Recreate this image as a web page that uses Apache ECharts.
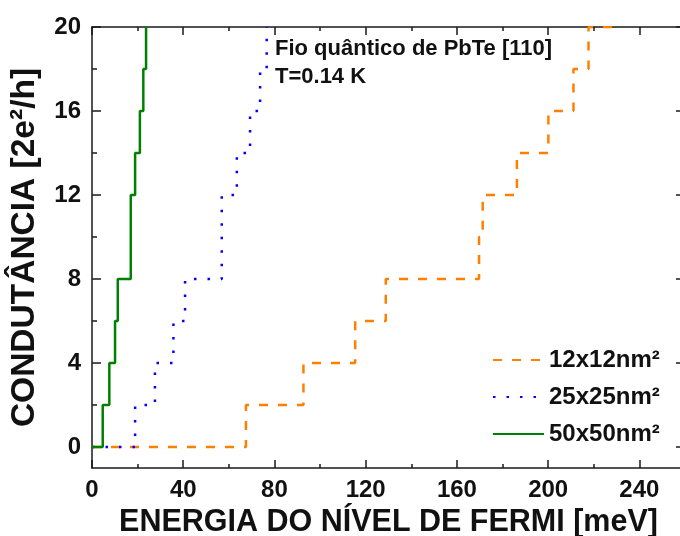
<!DOCTYPE html>
<html>
<head>
<meta charset="utf-8">
<script src="https://cdn.jsdelivr.net/npm/echarts@6/dist/echarts.min.js"></script>
<style>html,body{margin:0;padding:0;background:#fff;}#c{width:680px;height:536px;}</style>
</head>
<body>
<div id="c"></div>
<script>
// ---- data ----
const seriesNames = ['12x12nm\u00B2', '25x25nm\u00B2', '50x50nm\u00B2'];
// energy (meV) at which the conductance steps to the given value
const energy12 = [0, 67.5, 92.7, 115.4, 128.8, 169.7, 171.3, 186.3, 200.1, 211.1, 217.7, 230.5];
const cond12   = [0, 2, 4, 6, 8, 10, 12, 14, 16, 18, 20, 20];
const energy25 = [0, 18.9, 27.6, 35.7, 40.8, 56.9, 63.5, 69.3, 73.7, 76.6];
const cond25   = [0, 2, 4, 6, 8, 12, 14, 16, 18, 20];
const energy50 = [0, 4.7, 7.6, 10.1, 11.3, 17.0, 18.9, 21.0, 22.5, 23.7];
const cond50   = [0, 2, 4, 6, 8, 12, 14, 16, 18, 20];
const yMajorTicks = [0, 4, 8, 12, 16, 20];
const yMinorTicks = [2, 6, 10, 14, 18];
const annotation1 = 'Fio qu\u00E2ntico de PbTe [110]';
const annotation2 = 'T=0.14 K';
const xTitle = 'ENERGIA DO N\u00CDVEL DE FERMI [meV]';
const yTitle = 'CONDUT\u00C2NCIA [2e\u00B2/h]';

const FONT = 'Liberation Sans';
const pairs = (xs, ys) => xs.map((x, i) => [x, ys[i]]);
const axisColor = '#1a1a1a';

const chart = echarts.init(document.getElementById('c'), null, {renderer: 'canvas'});
const xCommon = {
  type: 'value', min: 0, max: 260, interval: 40,
  splitLine: {show: false},
  axisLine: {show: true, onZero: false, lineStyle: {color: axisColor, width: 1.5}},
  axisTick: {show: true, inside: true, length: 8, lineStyle: {color: axisColor, width: 1.5}},
  minorTick: {show: true, splitNumber: 2, length: 4, lineStyle: {color: axisColor, width: 1.5}},
  minorSplitLine: {show: false}
};
const yCommon = {
  type: 'value', min: -1, max: 20,
  splitLine: {show: false},
  axisLine: {show: true, onZero: false, lineStyle: {color: axisColor, width: 1.5}}
};
chart.setOption({
  animation: false,
  backgroundColor: '#fff',
  grid: {left: 92, top: 27, width: 593, height: 441, containLabel: false, outerBoundsMode: 'none'},
  xAxis: [
    Object.assign({}, xCommon, {
      position: 'bottom',
      axisLabel: {show: true, showMaxLabel: false, color: '#111', fontFamily: FONT, fontWeight: 'bold', fontSize: 24, margin: 10},
      name: xTitle, nameLocation: 'middle', nameGap: 37,
      nameTextStyle: {color: '#111', fontFamily: FONT, fontWeight: 'bold', fontSize: 30.5}
    }),
    Object.assign({}, xCommon, {position: 'top', axisLabel: {show: false}})
  ],
  yAxis: [
    Object.assign({}, yCommon, {
      position: 'left',
      axisTick: {show: true, inside: true, length: 9, customValues: yMajorTicks, lineStyle: {color: axisColor, width: 1.5}},
      axisLabel: {show: true, customValues: yMajorTicks, color: '#111', fontFamily: FONT, fontWeight: 'bold', fontSize: 24, margin: 11},
      name: yTitle, nameLocation: 'middle', nameGap: 50, nameRotate: 90,
      nameTextStyle: {color: '#111', fontFamily: FONT, fontWeight: 'bold', fontSize: 33.5}
    }),
    Object.assign({}, yCommon, {
      position: 'left',
      axisLine: {show: false},
      axisTick: {show: true, inside: true, length: 5, customValues: yMinorTicks, lineStyle: {color: axisColor, width: 1.5}},
      axisLabel: {show: false}
    }),
    Object.assign({}, yCommon, {
      position: 'right',
      axisTick: {show: true, inside: true, length: 9, customValues: yMajorTicks, lineStyle: {color: axisColor, width: 1.5}},
      axisLabel: {show: false}
    })
  ],
  legend: {
    orient: 'vertical', left: 487, top: 342,
    itemWidth: 51, itemHeight: 14, itemGap: 11,
    itemStyle: {opacity: 0},
    textStyle: {color: '#111', fontFamily: FONT, fontWeight: 'bold', fontSize: 24, lineHeight: 26},
    data: seriesNames
  },
  series: [
    {name: seriesNames[0], type: 'line', step: 'end', symbol: 'none', data: pairs(energy12, cond12),
     lineStyle: {color: '#FF8000', width: 2.5, type: [9, 10]}, itemStyle: {color: '#FF8000'}},
    {name: seriesNames[1], type: 'line', step: 'end', symbol: 'none', data: pairs(energy25, cond25),
     lineStyle: {color: '#0000FF', width: 2.5, type: [2.5, 11]}, itemStyle: {color: '#0000FF'}},
    {name: seriesNames[2], type: 'line', step: 'end', symbol: 'none', data: pairs(energy50, cond50),
     lineStyle: {color: '#008000', width: 2.5, type: 'solid'}, itemStyle: {color: '#008000'}}
  ],
  graphic: [
    {type: 'text', left: 275, top: 38, style: {text: annotation1, fill: '#111', font: 'bold 22px "Liberation Sans"'}},
    {type: 'text', left: 275, top: 66, style: {text: annotation2, fill: '#111', font: 'bold 22px "Liberation Sans"'}}
  ]
});
</script>
</body>
</html>
